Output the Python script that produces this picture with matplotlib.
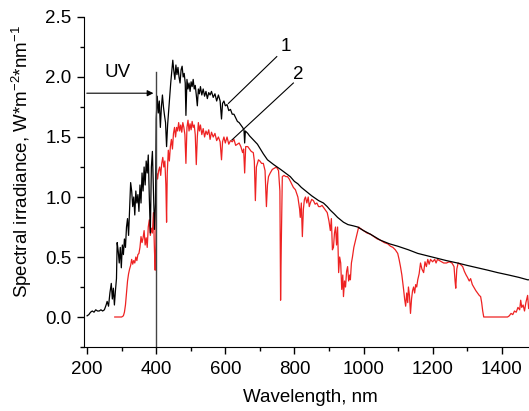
import matplotlib.pyplot as plt
from matplotlib.ticker import MultipleLocator

plt.rcParams['font.family'] = ['Liberation Sans', 'DejaVu Sans']
plt.rcParams['mathtext.default'] = 'regular'

# Curve 1 (black) - wavelength in nm, irradiance
wl_1 = [200, 205, 210, 215, 220, 225, 230, 235, 240, 245, 250, 255, 258, 262, 266, 270, 273, 276, 279, 282,
        285, 287, 290, 293, 296, 299, 302, 305, 308, 311, 314, 317, 320, 323, 326, 329, 332, 335, 338, 341,
        344, 347, 350, 353, 356, 359, 362, 365, 368, 371, 374, 377, 380, 383, 386, 389, 392, 395, 398, 400,
        403, 406, 409, 412, 415, 418, 421, 424, 427, 430, 433, 436, 439, 442, 445, 448, 451, 454, 457, 460,
        463, 466, 469, 472, 475, 478, 481, 484, 486, 489, 492, 495, 498, 501, 504, 507, 510, 513, 516, 519,
        522, 525, 528, 532, 536, 540, 544, 548, 552, 556, 560, 565, 570, 575, 580, 585, 589, 592, 596, 600,
        605, 610, 615, 620, 625, 630, 635, 640, 645, 650, 654, 656, 658, 665, 670, 680, 693, 710, 722, 740,
        760, 788, 800, 810, 820, 837, 850, 860, 870, 884, 895, 904, 915, 925, 942, 955, 970, 983, 1000, 1020,
        1049, 1075, 1099, 1130, 1157, 1185, 1214, 1240, 1272, 1300, 1330, 1360, 1388, 1420, 1450, 1475, 1480]
irr_1 = [0.01, 0.02, 0.04, 0.05, 0.04, 0.06, 0.05, 0.05, 0.06, 0.05, 0.06, 0.10, 0.13, 0.09, 0.20, 0.28, 0.15, 0.24, 0.10, 0.22,
         0.32, 0.62, 0.55, 0.45, 0.58, 0.41, 0.60, 0.52, 0.65, 0.58, 0.75, 0.82, 0.68, 0.90, 1.12, 1.05, 0.92, 1.00, 0.85, 1.05,
         0.95, 1.02, 0.88, 1.10, 0.95, 1.20, 1.05, 1.25, 1.10, 1.30, 1.20, 1.35, 1.00, 0.70, 1.25, 1.38, 1.05, 0.73, 0.95, 1.65,
         1.84, 1.70, 1.80, 1.58, 1.75, 1.85, 1.75, 1.68, 1.62, 1.42, 1.60, 1.72, 1.85, 1.95, 2.05, 2.14, 2.05, 1.98, 2.10, 2.02,
         2.08, 2.00, 1.95, 2.06, 2.09, 2.00, 2.03, 1.95, 1.68, 1.98, 1.90, 1.95, 1.88, 1.96, 1.92, 1.98, 1.90, 1.93, 1.85, 1.76,
         1.90, 1.86, 1.92, 1.85, 1.90, 1.84, 1.88, 1.82, 1.87, 1.85, 1.88, 1.83, 1.86, 1.80, 1.85, 1.80, 1.65, 1.78, 1.80, 1.76,
         1.77, 1.72, 1.73, 1.69, 1.69, 1.66, 1.63, 1.62, 1.60, 1.58, 1.56, 1.45, 1.55, 1.53, 1.51, 1.48, 1.44, 1.36, 1.31, 1.27,
         1.23, 1.17, 1.13, 1.11, 1.08, 1.04, 1.01, 0.99, 0.97, 0.95, 0.92, 0.89, 0.86, 0.83, 0.79, 0.77, 0.76, 0.75, 0.72, 0.69,
         0.64, 0.61, 0.59, 0.56, 0.53, 0.51, 0.49, 0.47, 0.45, 0.43, 0.41, 0.39, 0.37, 0.35, 0.33, 0.31, 0.31]

# Curve 2 (red)
wl_2 = [280, 290, 300, 305, 308, 311, 314, 317, 320, 323, 326, 329, 332, 335, 338, 341, 344, 347, 350, 353,
        356, 359, 362, 365, 368, 371, 374, 377, 380, 383, 386, 389, 392, 395, 397, 399, 401, 404, 407, 410,
        413, 416, 419, 422, 425, 428, 430, 432, 435, 438, 441, 444, 447, 450, 453, 456, 459, 462, 465, 468,
        471, 474, 477, 480, 483, 486, 489, 492, 495, 498, 501, 504, 507, 510, 513, 516, 519, 522, 525, 528,
        532, 536, 540, 544, 548, 552, 556, 560, 565, 570, 575, 580, 585, 589, 592, 596, 600, 605, 610, 615,
        620, 625, 630, 635, 640, 645, 650, 653, 656, 659, 665, 670, 675, 681, 684, 687, 690, 696, 700, 705,
        710, 715, 719, 722, 725, 730, 736, 742, 748, 754, 758, 760, 762, 765, 770, 775, 780, 785, 790, 797,
        803, 810, 815, 817, 820, 823, 826, 829, 832, 836, 840, 843, 846, 850, 855, 860, 865, 870, 875, 880,
        885, 890, 895, 900, 904, 907, 910, 913, 916, 919, 922, 925, 928, 931, 934, 937, 940, 942, 945, 948,
        951, 954, 957, 960, 962, 965, 968, 972, 977, 982, 986, 990, 995, 1000, 1010, 1020, 1030, 1040, 1049, 1060,
        1070, 1078, 1085, 1092, 1099, 1103, 1107, 1111, 1114, 1116, 1119, 1122, 1125, 1128, 1130, 1133, 1136, 1139, 1142, 1145,
        1148, 1151, 1154, 1157, 1161, 1165, 1169, 1174, 1178, 1182, 1186, 1190, 1194, 1200, 1206, 1210, 1214, 1220, 1226, 1232,
        1240, 1248, 1256, 1262, 1265, 1267, 1270, 1274, 1280, 1287, 1292, 1297, 1301, 1306, 1310, 1315, 1319, 1325, 1330, 1335,
        1339, 1342, 1345, 1348, 1380, 1417, 1422, 1427, 1432, 1437, 1442, 1447, 1452, 1455, 1458, 1462, 1466, 1470, 1475, 1478,
        1481]
irr_2 = [0.0, 0.0, 0.0, 0.01, 0.04, 0.10, 0.20, 0.30, 0.36, 0.40, 0.43, 0.48, 0.44, 0.47, 0.45, 0.50, 0.47, 0.52, 0.53, 0.58,
         0.67, 0.62, 0.66, 0.72, 0.60, 0.66, 0.58, 0.75, 0.81, 0.68, 0.74, 0.70, 0.87, 0.55, 0.39, 0.60, 1.20, 1.15, 1.22, 1.25,
         1.18, 1.28, 1.33, 1.25, 1.30, 1.10, 0.79, 1.20, 1.39, 1.30, 1.42, 1.48, 1.40, 1.53, 1.58, 1.50, 1.58, 1.55, 1.62, 1.55,
         1.60, 1.54, 1.62, 1.58, 1.52, 1.28, 1.58, 1.64, 1.55, 1.61, 1.56, 1.63, 1.58, 1.60, 1.52, 1.27, 1.50, 1.62, 1.55, 1.60,
         1.52, 1.57, 1.50, 1.55, 1.52, 1.56, 1.48, 1.54, 1.50, 1.53, 1.47, 1.50, 1.46, 1.31, 1.46, 1.50, 1.45, 1.50, 1.44, 1.47,
         1.46, 1.48, 1.43, 1.44, 1.45, 1.42, 1.37, 1.40, 1.20, 1.42, 1.42, 1.40, 1.38, 1.37, 1.30, 0.97, 1.25, 1.31, 1.30, 1.28,
         1.28, 1.22, 0.92, 1.10, 1.17, 1.20, 1.23, 1.24, 1.25, 1.22, 1.05, 0.14, 0.60, 1.17, 1.18, 1.17, 1.17, 1.15, 1.12, 1.08,
         1.06, 1.00, 0.90, 0.83, 0.95, 0.67, 0.90, 0.98, 1.00, 0.95, 1.00, 0.92, 0.95, 0.98, 0.97, 0.94, 0.95, 0.92, 0.92, 0.93,
         0.91, 0.89, 0.87, 0.80, 0.72, 0.82, 0.56, 0.58, 0.70, 0.75, 0.60, 0.75, 0.37, 0.50, 0.45, 0.23, 0.35, 0.17, 0.30, 0.25,
         0.38, 0.42, 0.30, 0.35, 0.31, 0.45, 0.50, 0.58, 0.64, 0.70, 0.75, 0.74, 0.73, 0.72, 0.70, 0.69, 0.67, 0.65, 0.64, 0.62,
         0.61, 0.59, 0.58, 0.56, 0.53, 0.48, 0.42, 0.35, 0.28, 0.23, 0.15, 0.09, 0.20, 0.12, 0.25, 0.18, 0.03, 0.15, 0.22, 0.25,
         0.20, 0.27, 0.25, 0.31, 0.36, 0.45, 0.40, 0.37, 0.46, 0.42, 0.48, 0.44, 0.48, 0.46, 0.48, 0.45, 0.48, 0.47, 0.46, 0.45,
         0.45, 0.46, 0.45, 0.42, 0.30, 0.24, 0.40, 0.45, 0.44, 0.42, 0.38, 0.35, 0.33, 0.30, 0.32, 0.27, 0.25, 0.22, 0.20, 0.18,
         0.17, 0.12, 0.05, 0.0, 0.0, 0.0, 0.01, 0.03, 0.02, 0.05, 0.04, 0.08, 0.06, 0.14, 0.08, 0.10, 0.05, 0.12, 0.18, 0.07,
         0.10]

fig = plt.figure(figsize=(5.29, 4.11), dpi=100)
ax = fig.add_axes([84 / 529, 64 / 411, 445 / 529, 330 / 411])

ax.plot(wl_2, irr_2, color='#ee2222', lw=0.9)
ax.plot(wl_1, irr_1, color='black', lw=0.9)

ax.set_xlim(191, 1479)
ax.set_ylim(-0.25, 2.5)

# UV marker
ax.plot([400, 400], [-0.25, 2.04], color='#444444', lw=1)
ax.annotate('', xy=(400, 1.865), xytext=(191, 1.865),
            arrowprops=dict(arrowstyle='-|>', color='black', lw=0.8, mutation_scale=9))
ax.text(287, 2.04, 'UV', fontsize=13.5, ha='center', va='center')

# curve labels
ax.plot([749, 609], [2.17, 1.78], color='black', lw=0.8)
ax.plot([797, 619], [1.95, 1.475], color='black', lw=0.8)
ax.text(776, 2.25, '1', fontsize=13.5, ha='center', va='center')
ax.text(811, 2.02, '2', fontsize=13.5, ha='center', va='center')

ax.spines['top'].set_visible(False)
ax.spines['right'].set_visible(False)
ax.xaxis.set_major_locator(MultipleLocator(200))
ax.xaxis.set_minor_locator(MultipleLocator(100))
ax.yaxis.set_major_locator(MultipleLocator(0.5))
ax.yaxis.set_minor_locator(MultipleLocator(0.25))
ax.tick_params(which='major', direction='out', length=5, width=1, labelsize=13.5)
ax.tick_params(which='minor', direction='out', length=3, width=1)
ax.tick_params(axis='x', pad=5)
ax.tick_params(axis='y', pad=4)

fig.text(310 / 529, 1 - 397 / 411, 'Wavelength, nm', fontsize=13.5, ha='center', va='center')
fig.text(22 / 529, 1 - 162 / 411, r'Spectral irradiance, W*m$^{-2}$*nm$^{-1}$',
         fontsize=13.5, ha='center', va='center', rotation=90)

fig.savefig('out.png', dpi=100)
